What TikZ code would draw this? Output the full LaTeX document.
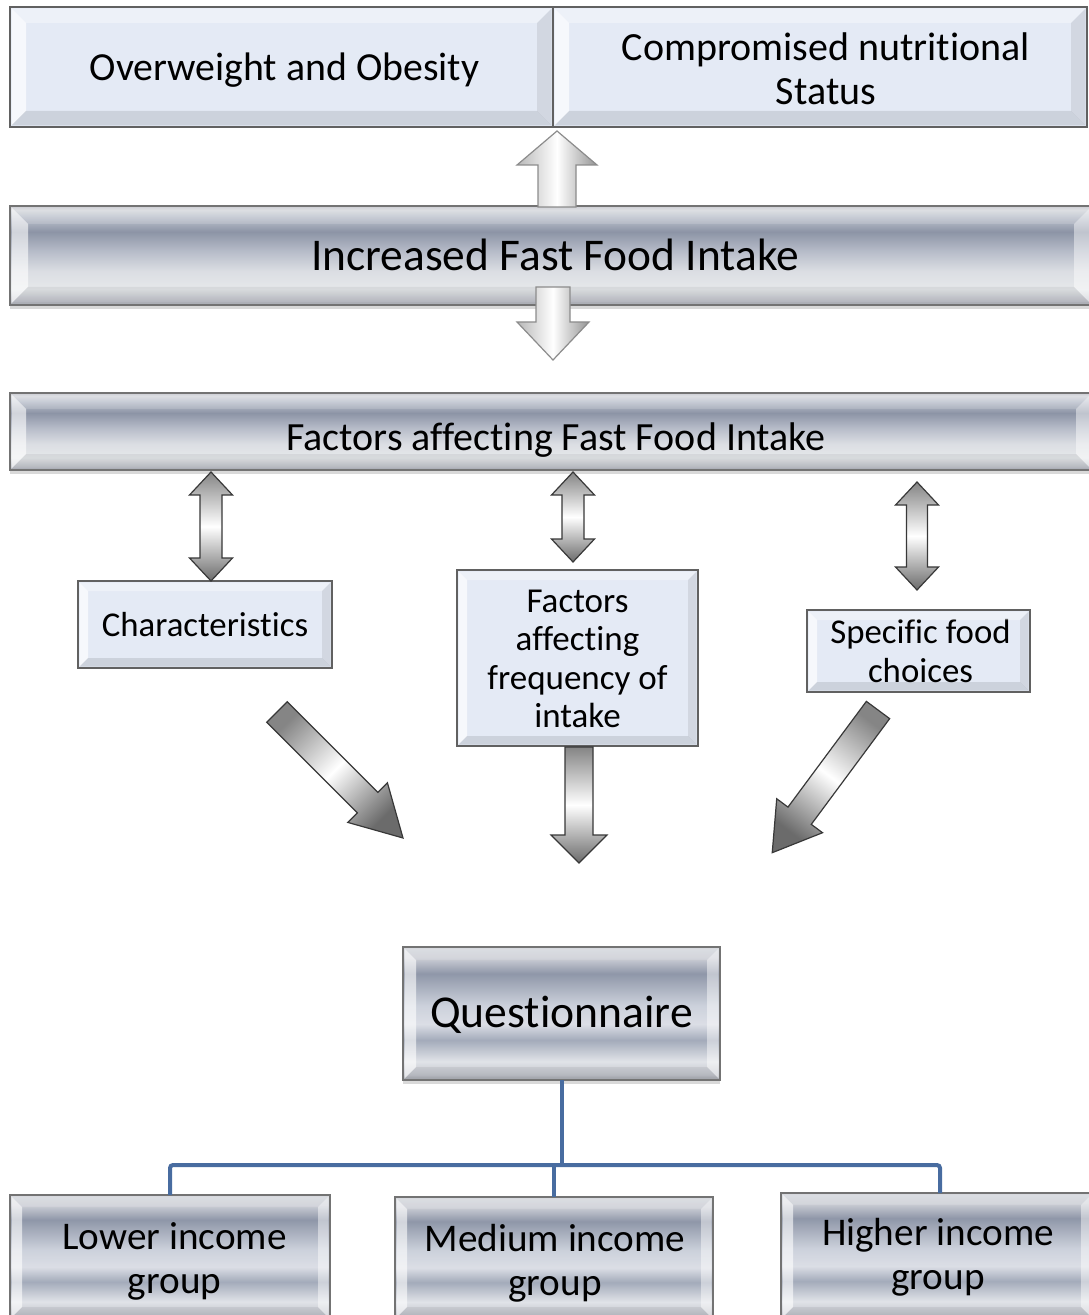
\documentclass[tikz,border=0pt]{standalone}
\usepackage{fontspec}
\setmainfont{Carlito}[Ligatures={NoCommon}]
\usetikzlibrary{calc,shadows}

% metallic bands for the grey bars and boxes (bottom to top)
\pgfdeclareverticalshading{silverbar}{100bp}{%
  rgb(0bp)=(0.60,0.61,0.64); rgb(25bp)=(0.62,0.63,0.66);
  rgb(27bp)=(0.76,0.77,0.80); rgb(33bp)=(0.90,0.91,0.92);
  rgb(42bp)=(0.86,0.87,0.89); rgb(52bp)=(0.72,0.74,0.79);
  rgb(62bp)=(0.55,0.58,0.65); rgb(70bp)=(0.76,0.78,0.82);
  rgb(73bp)=(0.84,0.85,0.87); rgb(75bp)=(0.78,0.79,0.81);
  rgb(100bp)=(0.78,0.79,0.81)}
\pgfdeclareverticalshading{silverbox}{100bp}{%
  rgb(0bp)=(0.60,0.61,0.64); rgb(25bp)=(0.62,0.63,0.66);
  rgb(27bp)=(0.76,0.77,0.80); rgb(32bp)=(0.88,0.89,0.91);
  rgb(40bp)=(0.64,0.67,0.73); rgb(46bp)=(0.86,0.87,0.90);
  rgb(53bp)=(0.80,0.82,0.86); rgb(65bp)=(0.56,0.59,0.66);
  rgb(71bp)=(0.80,0.81,0.84); rgb(75bp)=(0.84,0.85,0.87);
  rgb(100bp)=(0.84,0.85,0.87)}

\definecolor{boxblue}{RGB}{228,234,245}
\definecolor{busblue}{RGB}{72,108,160}

\tikzset{
  bw/.style={minimum width=#1*0.5pt},
  bh/.style={minimum height=#1*0.5pt},
  bluebox/.style={draw=black!62, line width=0.8pt, fill=boxblue, inner sep=0pt,
    outer sep=0pt, align=center, text=black},
  silverbase/.style={draw=black!55, line width=0.8pt, inner sep=0pt, outer sep=0pt,
    align=center, text=black,
    drop shadow={shadow xshift=0pt, shadow yshift=-2pt, opacity=0.25, fill=black!60}},
  barbox/.style={silverbase, shading=silverbar},
  metalbox/.style={silverbase, shading=silverbox},
  greyarrow/.style={draw=black!78, line width=0.6pt, top color=black!48,
    bottom color=black!58, middle color=white, line join=miter},
  silverarrow/.style={draw=black!45, line width=0.6pt, left color=black!28,
    right color=black!42, middle color=white, line join=miter},
  bus/.style={draw=busblue, line width=2pt, rounded corners=1.5pt}
}

% text lowered by #2 (and moved right by half of #1) inside its box, lines centred
\newcommand\lowered[3][0pt]{\raisebox{-#2}[\height][\depth]{\hspace*{#1}\begin{tabular}{@{}c@{}}#3\end{tabular}}}

% bevelled rim: node, rim width, left/top/right/bottom fills
\newcommand\bevel[6]{%
  \fill[#3] ($(#1.north west)+(1.5,1.5)$) -- ($(#1.south west)+(1.5,-1.5)$)
    -- ($(#1.south west)+(#2,-#2)$) -- ($(#1.north west)+(#2,#2)$) -- cycle;
  \fill[#4] ($(#1.north west)+(1.5,1.5)$) -- ($(#1.north east)+(-1.5,1.5)$)
    -- ($(#1.north east)+(-#2,#2)$) -- ($(#1.north west)+(#2,#2)$) -- cycle;
  \fill[#5] ($(#1.north east)+(-1.5,1.5)$) -- ($(#1.south east)+(-1.5,-1.5)$)
    -- ($(#1.south east)+(-#2,-#2)$) -- ($(#1.north east)+(-#2,#2)$) -- cycle;
  \fill[#6] ($(#1.south west)+(1.5,-1.5)$) -- ($(#1.south east)+(-1.5,-1.5)$)
    -- ($(#1.south east)+(-#2,-#2)$) -- ($(#1.south west)+(#2,-#2)$) -- cycle;}
\newcommand\bluebevel[2]{\bevel{#1}{#2}{white,opacity=0.7}{white,opacity=0.35}{black,opacity=0.08}{black,opacity=0.1}}
\newcommand\metalbevel[2]{\bevel{#1}{#2}{white,opacity=0.6}{white,opacity=0.15}{white,opacity=0.45}{black,opacity=0.06}}

% block arrow from #2 to #3: shaft width #4, head width #5, head length #6 (px)
\newcommand\blockarrow[6]{%
  \path (#2); \pgfgetlastxy{\bax}{\bay}%
  \path (#3); \pgfgetlastxy{\bbx}{\bby}%
  \pgfmathsetmacro\baang{atan2((\bby)-(\bay),(\bbx)-(\bax))}%
  \pgfmathsetmacro\balen{2*veclen((\bbx)-(\bax),(\bby)-(\bay))}%
  \begin{scope}[shift={(#2)}, rotate=\baang, x=0.5pt, y=0.5pt]
    \draw[#1] (0,{-#4/2}) -- ({\balen-#6},{-#4/2}) -- ({\balen-#6},{-#5/2})
      -- (\balen,0) -- ({\balen-#6},{#5/2}) -- ({\balen-#6},{#4/2}) -- (0,{#4/2}) -- cycle;
  \end{scope}}
% double-headed block arrow between #2 and #3
\newcommand\twowayarrow[6]{%
  \path (#2); \pgfgetlastxy{\bax}{\bay}%
  \path (#3); \pgfgetlastxy{\bbx}{\bby}%
  \pgfmathsetmacro\baang{atan2((\bby)-(\bay),(\bbx)-(\bax))}%
  \pgfmathsetmacro\balen{2*veclen((\bbx)-(\bax),(\bby)-(\bay))}%
  \begin{scope}[shift={(#2)}, rotate=\baang, x=0.5pt, y=0.5pt]
    \draw[#1] (0,0) -- (#6,{#5/2}) -- (#6,{#4/2}) -- ({\balen-#6},{#4/2})
      -- ({\balen-#6},{#5/2}) -- (\balen,0) -- ({\balen-#6},{-#5/2})
      -- ({\balen-#6},{-#4/2}) -- (#6,{-#4/2}) -- (#6,{-#5/2}) -- cycle;
  \end{scope}}

\begin{document}
\begin{tikzpicture}[x=0.5pt,y=-0.5pt]
\useasboundingbox (0,0) rectangle (1088,1315);

% outcomes
\node[bluebox, bw=543, bh=120, font=\fontsize{19.9}{22}\selectfont] (obes) at (281.5,67)
  {\lowered[3pt]{2.5pt}{Overweight and Obesity}};
\node[bluebox, bw=534, bh=120, font=\fontsize{20}{22}\selectfont] (comp) at (820,67)
  {\lowered[6pt]{3.25pt}{Compromised nutritional\\Status}};
\bluebevel{obes}{16}
\bluebevel{comp}{16}

% central bars
\node[barbox, bw=1082, bh=99, font=\fontsize{22.7}{26}\selectfont] (inc) at (551,255.5)
  {\lowered[4pt]{2.5pt}{Increased Fast Food Intake}};
\metalbevel{inc}{18}
\node[barbox, bw=1082, bh=77, font=\fontsize{20}{22}\selectfont] (fac) at (551,431.5)
  {\lowered[5pt]{5pt}{Factors affecting Fast Food Intake}};
\metalbevel{fac}{16}

% factor groups
\node[bluebox, bw=254, bh=87, font=\fontsize{17.4}{19.5}\selectfont] (char) at (205,624.5)
  {Characteristics};
\node[bluebox, bw=241, bh=176, font=\fontsize{17.5}{19.2}\selectfont] (freq) at (577.5,658)
  {\lowered{2.25pt}{Factors\\affecting\\frequency of\\intake}};
\node[bluebox, bw=223, bh=82, font=\fontsize{17.4}{19.5}\selectfont] (spec) at (918.5,651)
  {\lowered[2pt]{2.25pt}{Specific food\\choices}};
\bluebevel{char}{10}
\bluebevel{freq}{10}
\bluebevel{spec}{10}

% survey instrument and groups
\node[metalbox, bw=317, bh=133, font=\fontsize{22.8}{26}\selectfont] (quest) at (561.5,1013.5)
  {\lowered{2pt}{Questionnaire}};
\metalbevel{quest}{13}
\node[metalbox, bw=320, bh=124, font=\fontsize{19.6}{22}\selectfont] (low) at (170,1257)
  {\lowered[4.5pt]{3pt}{Lower income\\group}};
\node[metalbox, bw=318, bh=122, font=\fontsize{19.6}{22}\selectfont] (med) at (554,1258)
  {\lowered[1pt]{3.5pt}{Medium income\\group}};
\node[metalbox, bw=312, bh=126, font=\fontsize{19.6}{22}\selectfont] (high) at (937,1256)
  {\lowered[1pt]{1.5pt}{Higher income\\group}};
\metalbevel{low}{12}
\metalbevel{med}{12}
\metalbevel{high}{12}

% connector tree below the questionnaire
\coordinate (bus) at (0,1165);
\draw[bus] (quest.south) -- (quest.south |- bus);
\draw[bus] (low.north) -- (low.north |- bus) -- ([xshift=1.5pt]high.north |- bus) -- ([xshift=1.5pt]high.north);
\draw[bus] (med.north) -- (med.north |- bus);

% silver arrows around the central bar
\coordinate (upT) at (557,207);
\coordinate (upH) at (557,131);
\coordinate (dnT) at (553,287);
\coordinate (dnH) at (553,360);
\blockarrow{silverarrow}{upT}{upH}{38}{80}{34}
\blockarrow{silverarrow}{dnT}{dnH}{34}{72}{38}

% two-way links to the factor groups
\coordinate (d1a) at (211,472);
\coordinate (d1b) at (211,581);
\coordinate (d2a) at (573,472);
\coordinate (d2b) at (573,562);
\coordinate (d3a) at (917,482);
\coordinate (d3b) at (917,590);
\twowayarrow{greyarrow}{d1a}{d1b}{22}{43}{23}
\twowayarrow{greyarrow}{d2a}{d2b}{22}{43}{23}
\twowayarrow{greyarrow}{d3a}{d3b}{21}{43}{23}

% arrows converging on the questionnaire
\coordinate (l1) at (277,712);
\coordinate (l2) at (403,838);
\coordinate (m1) at (579,747);
\coordinate (m2) at (579,863);
\coordinate (r1) at (878,710);
\coordinate (r2) at (772,853);
\blockarrow{greyarrow, shading angle=45}{l1}{l2}{29}{56}{50}
\blockarrow{greyarrow}{m1}{m2}{28}{56}{28}
\blockarrow{greyarrow, shading angle=-37}{r1}{r2}{29}{57}{46}
\end{tikzpicture}
\end{document}
